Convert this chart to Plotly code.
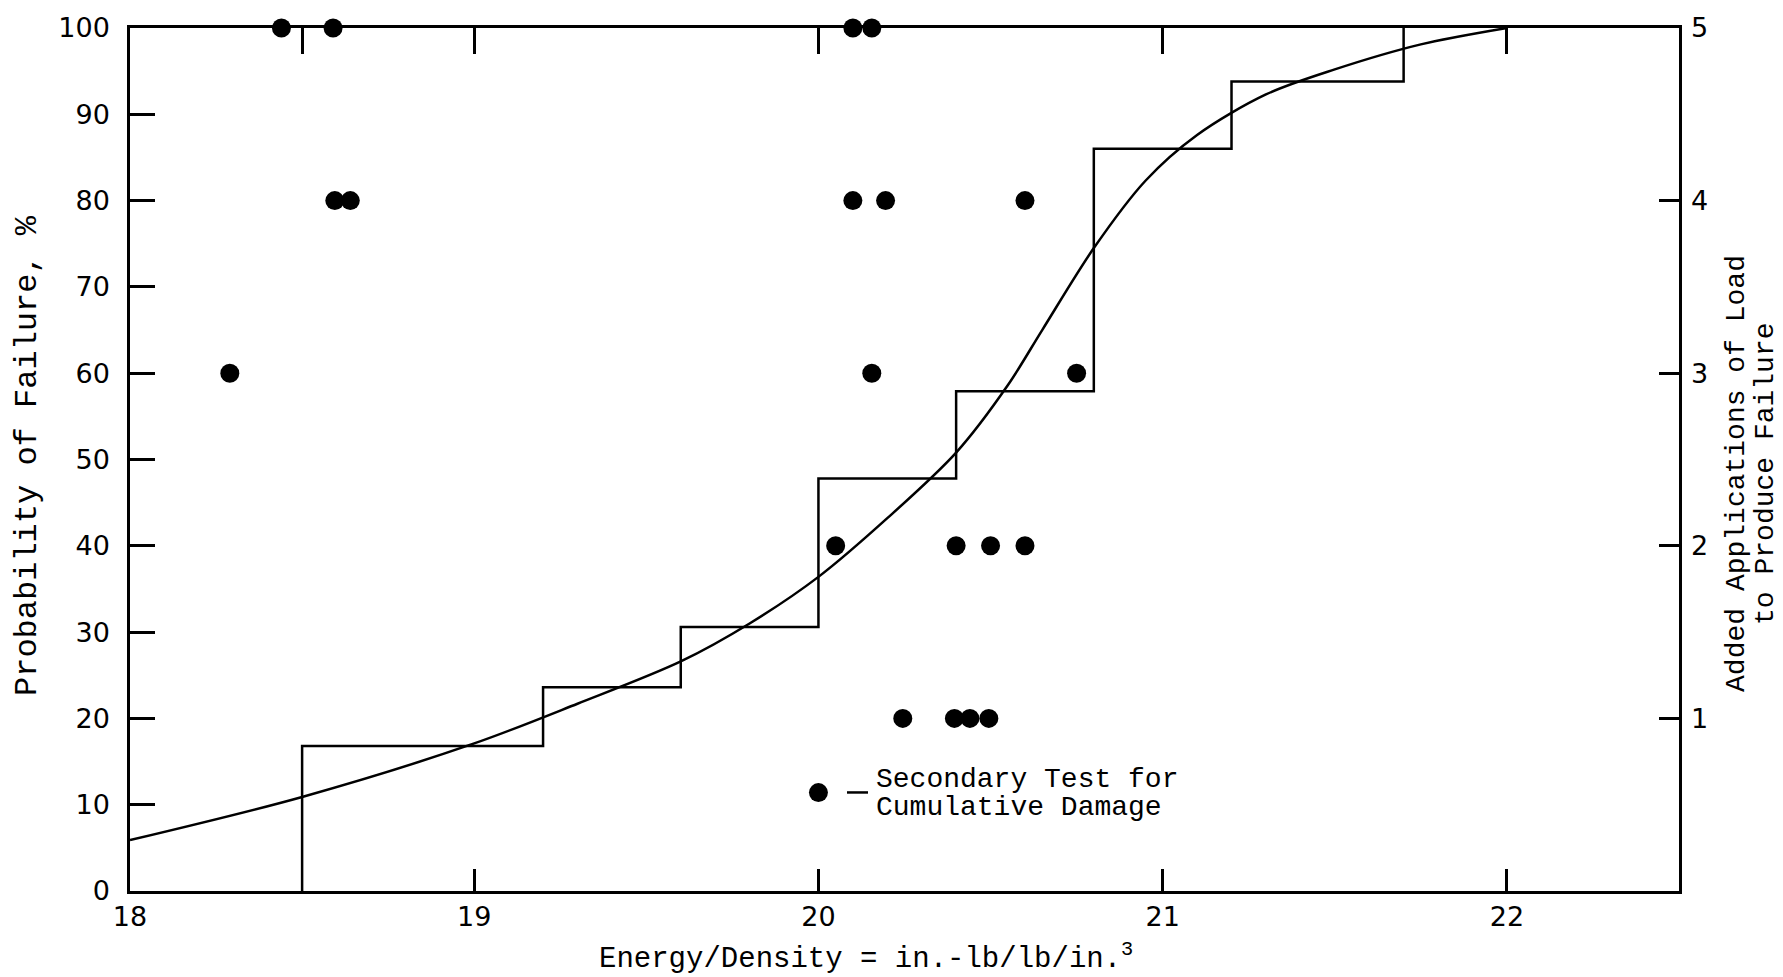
import plotly.graph_objects as go

# Cumulative distribution of failures (energy/density vs. probability, %)
step_energy = [18.5, 18.5, 19.2, 19.6, 20.0, 20.4, 20.8, 21.2, 21.7]
step_prob = [0, 16.8, 23.6, 30.6, 47.8, 57.9, 86.0, 93.8, 100]

# Fitted probability-of-failure curve
curve_energy = [18.0, 18.5, 19.0, 19.3, 19.6, 19.8, 20.0, 20.2, 20.4,
                20.55, 20.65, 20.8, 20.95, 21.1, 21.3, 21.5, 21.75, 22.0]
curve_prob = [5.9, 10.9, 17.1, 21.7, 26.6, 31.0, 36.4, 43.2, 50.8,
              58.6, 65.0, 74.5, 82.3, 87.6, 92.3, 95.2, 98.1, 100.0]

# Secondary tests for cumulative damage (energy, added load applications)
test_energy = [18.44, 18.59, 20.10, 20.155,
               18.595, 18.64, 20.10, 20.195, 20.60,
               18.29, 20.155, 20.75,
               20.05, 20.40, 20.50, 20.60,
               20.245, 20.395, 20.44, 20.495]
test_applications = [5, 5, 5, 5,
                     4, 4, 4, 4, 4,
                     3, 3, 3,
                     2, 2, 2, 2,
                     1, 1, 1, 1]

# Key symbol for the secondary-test marker
key_energy = [20.0]
key_applications = [0.57]

x_ticks = [18, 19, 20, 21, 22]
x_top_ticks = [18.5, 19, 20, 21, 22]
prob_ticks = [0, 10, 20, 30, 40, 50, 60, 70, 80, 90, 100]
app_ticks = [1, 2, 3, 4, 5]

MONO = "Liberation Mono"
TICKFONT = dict(family="DejaVu Sans", size=27, color="black")
LW = 2.5

fig = go.Figure()

fig.add_trace(go.Scatter(
    x=step_energy, y=step_prob, mode="lines", line_shape="hv",
    line=dict(color="black", width=2.5), showlegend=False, hoverinfo="skip",
    xaxis="x", yaxis="y", cliponaxis=False))

fig.add_trace(go.Scatter(
    x=curve_energy, y=curve_prob, mode="lines", line_shape="spline",
    line=dict(color="black", width=2.5, smoothing=0.9), showlegend=False,
    hoverinfo="skip", xaxis="x", yaxis="y"))

fig.add_trace(go.Scatter(
    x=test_energy, y=test_applications, mode="markers",
    marker=dict(color="black", size=19, line=dict(width=0)),
    showlegend=False, xaxis="x", yaxis="y2", cliponaxis=False))

fig.add_trace(go.Scatter(
    x=key_energy, y=key_applications, mode="markers",
    marker=dict(color="black", size=19, line=dict(width=0)),
    showlegend=False, xaxis="x", yaxis="y2", cliponaxis=False))

# invisible trace so the top tick axis is rendered
fig.add_trace(go.Scatter(x=[], y=[], xaxis="x2", yaxis="y",
                         showlegend=False, hoverinfo="skip"))

L, R, T, B = 130, 104, 24, 86
W, H = 1783, 977
pw = W - L - R
ph = H - T - B


def px(xp):
    return (xp - L) / pw


def py(yp):
    return (H - B - yp) / ph


annotations = [
    dict(text="Energy/Density = in.-lb/lb/in.<sup>3</sup>", x=px(866), y=py(957),
         xref="paper", yref="paper", showarrow=False, xanchor="center", yanchor="middle",
         font=dict(family=MONO, size=29, color="black")),
    dict(text="Probability of Failure, %", x=px(27), y=py(454),
         xref="paper", yref="paper", showarrow=False, textangle=-90,
         xanchor="center", yanchor="middle",
         font=dict(family=MONO, size=32, color="black")),
    dict(text="Added Applications of Load", x=px(1737), y=py(471),
         xref="paper", yref="paper", showarrow=False, textangle=-90,
         xanchor="center", yanchor="middle",
         font=dict(family=MONO, size=28, color="black")),
    dict(text="to Produce Failure", x=px(1766), y=py(472),
         xref="paper", yref="paper", showarrow=False, textangle=-90,
         xanchor="center", yanchor="middle",
         font=dict(family=MONO, size=28, color="black")),
    dict(text="Secondary Test for", x=px(874), y=py(779),
         xref="paper", yref="paper", showarrow=False,
         xanchor="left", yanchor="middle",
         font=dict(family=MONO, size=28, color="black")),
    dict(text="Cumulative Damage", x=px(874), y=py(807),
         xref="paper", yref="paper", showarrow=False,
         xanchor="left", yanchor="middle",
         font=dict(family=MONO, size=28, color="black")),
]

shapes = [
    dict(type="line", xref="paper", yref="paper",
         x0=px(847), x1=px(868), y0=py(792), y1=py(792),
         line=dict(color="black", width=2.5)),
]

fig.update_layout(
    width=W, height=H,
    margin=dict(l=L, r=R, t=T, b=B),
    paper_bgcolor="white", plot_bgcolor="white",
    annotations=annotations, shapes=shapes,
    xaxis=dict(range=[18, 22.5], tickvals=x_ticks, ticks="inside", ticklen=22,
               tickwidth=LW, tickcolor="black", showline=True, linewidth=LW,
               linecolor="black", mirror=True, showgrid=False, zeroline=False,
               tickfont=TICKFONT, ticklabelstandoff=0),
    xaxis2=dict(range=[18, 22.5], overlaying="x", side="top", anchor="y",
                tickvals=x_top_ticks, ticks="inside", ticklen=26, tickwidth=LW,
                tickcolor="black", showticklabels=False, showline=False,
                showgrid=False, zeroline=False),
    yaxis=dict(range=[0, 100], tickvals=prob_ticks, ticks="inside", ticklen=25,
               tickwidth=LW, tickcolor="black", showline=True, linewidth=LW,
               linecolor="black", mirror=True, showgrid=False, zeroline=False,
               tickfont=TICKFONT, ticklabelstandoff=12),
    yaxis2=dict(range=[0, 5], overlaying="y", side="right", anchor="x",
                tickvals=app_ticks, ticks="inside", ticklen=20, tickwidth=LW,
                tickcolor="black", showline=False, showgrid=False, zeroline=False,
                tickfont=TICKFONT, ticklabelstandoff=11),
)

fig.write_html("out.html")
